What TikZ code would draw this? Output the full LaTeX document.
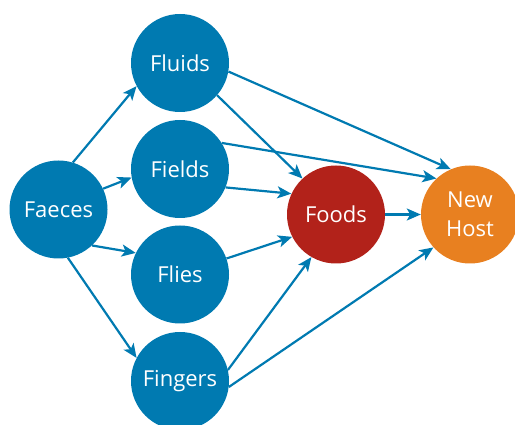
\documentclass[tikz,border=0pt]{standalone}
\usepackage{fontspec}
\setmainfont{Open Sans}
\usetikzlibrary{arrows.meta}
\definecolor{nodeblue}{RGB}{0,122,177}
\definecolor{foodred}{RGB}{178,34,26}
\definecolor{hostorange}{RGB}{232,128,32}
\tikzset{
  bubble/.style={circle, fill=nodeblue, draw=none, minimum size=98pt, inner sep=0pt,
    text=white, font=\fontsize{22}{26}\selectfont, align=center},
  conn/.style={draw=nodeblue, line width=2.2pt, -{Stealth[length=14pt,width=12pt,inset=3.5pt]}}
}
\begin{document}
\begin{tikzpicture}[x=1pt,y=-1pt]
\useasboundingbox (0,0) rectangle (515,425);
\clip (0,0) rectangle (515,425);
\node[bubble] (fa) at (58.5,209.5) {Faeces};
\node[bubble] (fl) at (180,63) {Fluids};
\node[bubble] (fi) at (180,169) {Fields};
\node[bubble] (fy) at (180,274.5) {Flies};
\node[bubble] (fg) at (180,381) {Fingers};
\node[bubble, fill=foodred] (fo) at (336,214.5) {Foods};
\node[bubble, fill=hostorange, font=\fontsize{22}{29}\selectfont] (nh) at (470,214.5) {New\\Host};
\draw[conn] (fa.73) -- (fl.208);
\draw[conn] (fa.25) -- (fi.190);
\draw[conn] (fa.-47) -- (fy.154);
\draw[conn] (fa.-79) -- (fg.152);
\draw[conn] (fl.-10) -- (nh.113);
\draw[conn] (fl.-41) -- (fo.133);
\draw[conn] (fi.32) -- (nh.133);
\draw[conn] (fi.-22) -- (fo.155);
\draw[conn] (fy.19) -- (fo.207);
\draw[conn] (fg.13) -- (fo.240);
\draw[conn] (fg.-7) -- (nh.222);
\draw[conn] (fo.east) -- (nh.west);
\end{tikzpicture}
\end{document}
